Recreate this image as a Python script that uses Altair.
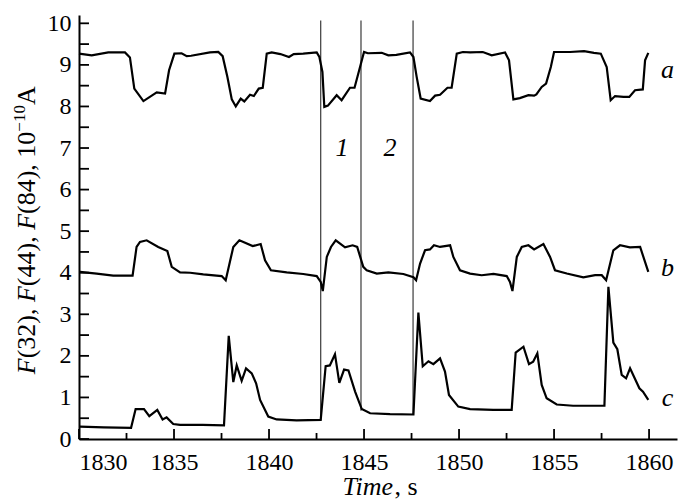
import altair as alt
import pandas as pd

# ---------------- data ----------------
a_t = [1830.0, 1830.67, 1831.54, 1832.42, 1832.68, 1832.91, 1833.39, 1834.09, 1834.53, 1834.74,
       1835.02, 1835.4, 1835.67, 1835.9, 1836.89, 1837.33, 1837.56, 1837.81, 1838.04, 1838.25,
       1838.51, 1838.70, 1839.0, 1839.2, 1839.46, 1839.67, 1839.88, 1840.14, 1840.6, 1841.05,
       1841.3, 1841.8, 1842.51, 1842.65, 1842.81, 1842.91, 1843.1, 1843.56, 1843.82, 1844.26,
       1844.5, 1844.79, 1845.0, 1845.2, 1845.93, 1846.28, 1846.7, 1847.42, 1847.6, 1847.77,
       1847.98, 1848.47, 1848.74, 1849.0, 1849.39, 1849.61, 1849.88, 1850.2, 1850.58, 1851.25,
       1851.72, 1852.42, 1852.63, 1852.86, 1853.2, 1853.65, 1853.95, 1854.07, 1854.35, 1854.58,
       1854.83, 1855.0, 1855.84, 1856.58, 1857.1, 1857.46, 1857.77, 1857.98, 1858.21, 1858.65,
       1858.96, 1859.26, 1859.67, 1859.79, 1859.96]
a_v = [9.27, 9.23, 9.30, 9.30, 9.18, 8.43, 8.13, 8.34, 8.31, 8.87,
       9.27, 9.28, 9.21, 9.22, 9.30, 9.31, 9.21, 8.71, 8.17, 8.00,
       8.19, 8.12, 8.28, 8.25, 8.43, 8.45, 9.27, 9.30, 9.26, 9.19,
       9.26, 9.27, 9.30, 9.19, 8.83, 7.99, 8.02, 8.27, 8.15, 8.45,
       8.45, 8.95, 9.31, 9.28, 9.29, 9.23, 9.24, 9.30, 9.19, 8.71,
       8.19, 8.13, 8.26, 8.28, 8.45, 8.45, 9.27, 9.31, 9.30, 9.31,
       9.23, 9.30, 9.11, 8.17, 8.20, 8.27, 8.26, 8.29, 8.47, 8.55,
       8.95, 9.31, 9.31, 9.33, 9.29, 9.27, 8.95, 8.15, 8.25, 8.23,
       8.23, 8.39, 8.41, 9.11, 9.29]

b_t = [1830.05, 1830.93, 1831.8, 1832.82, 1833.03, 1833.21, 1833.56, 1834.17, 1834.65, 1834.88,
       1835.32, 1835.85, 1836.54, 1837.51, 1837.72, 1838.12, 1838.44, 1838.65, 1839.14, 1839.56,
       1839.79, 1840.1, 1840.93, 1841.8, 1842.51, 1842.72, 1842.83, 1843.04, 1843.26, 1843.51,
       1844.0, 1844.4, 1844.64, 1844.96, 1845.14, 1845.67, 1846.28, 1847.07, 1847.6, 1847.74,
       1847.95, 1848.21, 1848.47, 1848.68, 1849.0, 1849.53, 1849.7, 1850.05, 1850.58, 1851.19,
       1851.81, 1852.51, 1852.68, 1852.81, 1853.04, 1853.3, 1853.65, 1853.95, 1854.44, 1854.79,
       1855.05, 1855.67, 1856.54, 1857.16, 1857.51, 1857.74, 1858.12, 1858.47, 1858.99, 1859.53,
       1859.96]
b_v = [4.02, 3.98, 3.93, 3.93, 4.62, 4.74, 4.78, 4.62, 4.52, 4.14,
       4.01, 4.00, 3.96, 3.92, 3.82, 4.62, 4.78, 4.74, 4.64, 4.69,
       4.30, 4.06, 4.01, 3.97, 3.92, 3.78, 3.56, 4.38, 4.62, 4.78,
       4.61, 4.66, 4.62, 4.14, 4.06, 3.98, 4.01, 3.97, 3.89, 3.82,
       4.22, 4.54, 4.56, 4.66, 4.62, 4.66, 4.38, 4.06, 3.98, 3.94,
       3.97, 3.92, 3.78, 3.56, 4.38, 4.62, 4.66, 4.56, 4.69, 4.38,
       4.06, 3.98, 3.89, 3.94, 3.94, 3.82, 4.54, 4.66, 4.61, 4.62,
       4.02]

c_t = [1830.05, 1831.3, 1832.74, 1832.98, 1833.42, 1833.7, 1834.12, 1834.4, 1834.61, 1834.96,
       1835.32, 1836.5, 1837.63, 1837.88, 1838.12, 1838.3, 1838.56, 1838.79, 1839.09, 1839.32,
       1839.53, 1839.96, 1840.4, 1841.45, 1842.72, 1842.98, 1843.2, 1843.47, 1843.7, 1843.95,
       1844.18, 1844.53, 1844.88, 1845.32, 1846.37, 1847.6, 1847.86, 1848.09, 1848.39, 1848.65,
       1849.0, 1849.26, 1849.47, 1849.96, 1850.58, 1851.8, 1852.77, 1852.98, 1853.39, 1853.68,
       1853.9, 1854.12, 1854.35, 1854.61, 1855.14, 1856.0, 1857.65, 1857.86, 1858.12, 1858.33,
       1858.56, 1858.79, 1859.0, 1859.49, 1859.68, 1859.96]
c_v = [0.30, 0.28, 0.27, 0.72, 0.72, 0.55, 0.70, 0.47, 0.52, 0.36,
       0.34, 0.34, 0.33, 2.48, 1.37, 1.77, 1.40, 1.70, 1.58, 1.34,
       0.94, 0.54, 0.47, 0.45, 0.46, 1.75, 1.77, 2.04, 1.35, 1.67,
       1.65, 1.14, 0.72, 0.62, 0.60, 0.59, 3.04, 1.75, 1.87, 1.80,
       1.94, 1.62, 1.06, 0.78, 0.72, 0.70, 0.70, 2.08, 2.22, 1.80,
       1.86, 2.06, 1.30, 0.98, 0.83, 0.80, 0.80, 3.66, 2.32, 2.16,
       1.54, 1.46, 1.70, 1.22, 1.14, 0.94]

# vertical separators (time, lower end, upper end)
sep_t = [1842.72, 1844.84, 1847.58]
sep_lo = [0.46, 0.68, 0.60]
sep_hi = [10.07, 10.07, 10.07]

# interval labels
zone_labels = ["1", "2"]
zone_t = [1843.84, 1846.37]
zone_y = [6.80, 6.80]

# curve labels
curve_labels = ["a", "b", "c"]
curve_lab_t = [1860.97, 1860.97, 1860.97]
curve_lab_y = [8.69, 3.91, 0.79]

x_major = [1830, 1835, 1840, 1845, 1850, 1855, 1860]
x_minor = [1832.5, 1837.5, 1842.5, 1847.5, 1852.5, 1857.5]
y_ticks = [i * 0.5 for i in range(21)]
y_labels = list(range(11))

x_title_parts = ["Time", ",\u00a0s"]
x_title_italic = [True, False]
y_title_parts = ["F", "(32),\u00a0", "F", "(44),\u00a0", "F", "(84),\u00a010", "\u221210", "\u00a0A"]
y_title_italic = [True, False, True, False, True, False, False, False]
y_title_super = [False, False, False, False, False, False, True, False]

# ---------------- layout ----------------
W, H = 598, 424
FONT = "Liberation Serif"
TITLE_SIZE = 26
SUP_SIZE = 17

rows = []
for name, ts, vs in (("a", a_t, a_v), ("b", b_t, b_v), ("c", c_t, c_v)):
    for t, v in zip(ts, vs):
        rows.append({"series": name, "t": t, "v": v})
df = pd.DataFrame(rows)

xs = alt.Scale(domain=[1830, 1861.47], nice=False, zero=False)
ys = alt.Scale(domain=[0, 10.2], nice=False, zero=False)

lines = alt.Chart(df).mark_line(color="black", strokeWidth=2.2).encode(
    x=alt.X("t:Q", scale=xs,
            axis=alt.Axis(values=x_major, format="d", title=None, ticks=False, tickSize=0,
                          labelPadding=11, domainColor="black", domainWidth=2,
                          labelFont=FONT, labelFontSize=24, labelColor="black", grid=False)),
    y=alt.Y("v:Q", scale=ys,
            axis=alt.Axis(values=y_labels, format="d", title=None, ticks=False, tickSize=0,
                          labelPadding=8, domainColor="black", domainWidth=2,
                          labelFont=FONT, labelFontSize=24, labelColor="black", grid=False)),
    detail="series:N",
)

sep = alt.Chart(pd.DataFrame({"t": sep_t, "lo": sep_lo, "hi": sep_hi})).mark_rule(
    color="#3a3a3a", strokeWidth=1.2).encode(
    x=alt.X("t:Q", scale=xs), y=alt.Y("lo:Q", scale=ys), y2="hi:Q")

yt = alt.Chart(pd.DataFrame({"v": y_ticks})).mark_rule(color="black", strokeWidth=1.8).encode(
    y=alt.Y("v:Q", scale=ys), x=alt.value(0), x2=alt.value(10))
xt_major = alt.Chart(pd.DataFrame({"t": x_major})).mark_rule(color="black", strokeWidth=1.8).encode(
    x=alt.X("t:Q", scale=xs), y=alt.value(H), y2=alt.value(H - 10))
xt_minor = alt.Chart(pd.DataFrame({"t": x_minor})).mark_rule(color="black", strokeWidth=1.8).encode(
    x=alt.X("t:Q", scale=xs), y=alt.value(H), y2=alt.value(H - 6))

zones = alt.Chart(pd.DataFrame({"lab": zone_labels, "t": zone_t, "y": zone_y})).mark_text(
    font=FONT, fontSize=26, fontStyle="italic", align="center", baseline="alphabetic",
    color="black").encode(x=alt.X("t:Q", scale=xs), y=alt.Y("y:Q", scale=ys), text="lab:N")

clabs = alt.Chart(pd.DataFrame({"lab": curve_labels, "t": curve_lab_t, "y": curve_lab_y})).mark_text(
    font=FONT, fontSize=26, fontStyle="italic", align="center", baseline="alphabetic",
    color="black").encode(x=alt.X("t:Q", scale=xs), y=alt.Y("y:Q", scale=ys), text="lab:N")

# approximate Times/Liberation Serif advance widths (em units)
REG = {" ": 0.25, "\u00a0": 0.25, "(": 0.333, ")": 0.333, ",": 0.25, "A": 0.722,
       "\u2212": 0.564, "s": 0.389}
ITA = {"F": 0.611, "T": 0.556, "i": 0.278, "m": 0.722, "e": 0.444}


def text_width(s, italic, size):
    tbl = ITA if italic else REG
    return sum((0.5 if ch.isdigit() else tbl.get(ch, 0.5)) for ch in s) * size


title_layers = []

# x title: "Time, s"
x_total = sum(text_width(p, it, TITLE_SIZE) for p, it in zip(x_title_parts, x_title_italic))
xpos = W / 2 + 2 - x_total / 2
for p, it in zip(x_title_parts, x_title_italic):
    title_layers.append(
        alt.Chart(pd.DataFrame({"s": [p]})).mark_text(
            font=FONT, fontSize=TITLE_SIZE, fontStyle="italic" if it else "normal",
            align="left", baseline="alphabetic", color="black").encode(
            text="s:N", x=alt.value(xpos), y=alt.value(H + 56)))
    xpos += text_width(p, it, TITLE_SIZE)

# y title (rotated, reading upward)
y_total = sum(text_width(p, it, SUP_SIZE if sp else TITLE_SIZE)
              for p, it, sp in zip(y_title_parts, y_title_italic, y_title_super))
ypos = H / 2 + y_total / 2
for p, it, sp in zip(y_title_parts, y_title_italic, y_title_super):
    size = SUP_SIZE if sp else TITLE_SIZE
    title_layers.append(
        alt.Chart(pd.DataFrame({"s": [p]})).mark_text(
            font=FONT, fontSize=size, fontStyle="italic" if it else "normal",
            align="left", baseline="alphabetic", angle=270, color="black").encode(
            text="s:N", x=alt.value(-54 if sp else -44), y=alt.value(ypos)))
    ypos -= text_width(p, it, size)

chart = alt.layer(sep, lines, yt, xt_major, xt_minor, zones, clabs, *title_layers).properties(
    width=W, height=H,
    autosize=alt.AutoSizeParams(type="none"),
    padding={"left": 79, "top": 15, "right": 5, "bottom": 63},
    background="white",
).configure_view(stroke=None)

chart.save("out.html", embed_options={"renderer": "svg", "actions": False})
